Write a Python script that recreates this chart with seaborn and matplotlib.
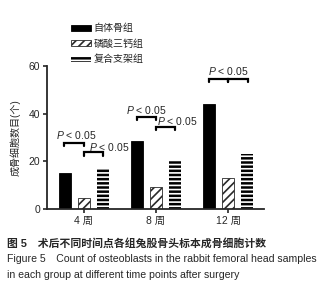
import numpy as np
import pandas as pd
import matplotlib
matplotlib.use("Agg")
import matplotlib.pyplot as plt
import seaborn as sns
from matplotlib.patches import Patch

sns.set_theme(style="ticks")
plt.rcParams["font.family"] = ["Liberation Sans", "Noto Sans CJK SC"]
plt.rcParams["mathtext.fontset"] = "custom"
plt.rcParams["mathtext.it"] = "Liberation Sans:italic"
plt.rcParams["mathtext.rm"] = "Liberation Sans"
plt.rcParams["hatch.linewidth"] = 1.2

# ---- data ----
weeks = ["4 周", "8 周", "12 周"]
groups = ["自体骨组", "磷酸三钙组", "复合支架组"]
autologous = [15, 28.5, 44]
tcp = [4.5, 9.2, 13]
composite = [17, 20.3, 23]

# significance brackets: (x1, x2, height)
brackets = [(-0.27, 0.0, 27.6), (0.0, 0.27, 23.8),
            (0.73, 1.0, 38.8), (1.0, 1.27, 34.6),
            (1.73, 2.0, 54.6), (2.0, 2.27, 54.6)]
# p labels: (x, y)
p_labels = [(-0.1, 31.0), (0.35, 26.2), (0.86, 41.8), (1.29, 36.9), (2.0, 58.2)]

df = pd.DataFrame({
    "week": weeks * 3,
    "group": [g for g in groups for _ in weeks],
    "count": autologous + tcp + composite,
})

fig = plt.figure(figsize=(3.34, 2.97), dpi=100)
ax = fig.add_axes([0.141, 0.296, 0.65, 0.481])

sns.barplot(data=df, x="week", y="count", hue="group", order=weeks,
            hue_order=groups, width=0.8, gap=0.38, ax=ax, legend=False,
            errorbar=None, saturation=1)

styles = [dict(fc="black", ec="black", hatch=None, lw=0.6),
          dict(fc="white", ec="#2a2a2a", hatch="////", lw=0.6),
          dict(fc="black", ec="white", hatch="----", lw=0)]
for cont, st in zip(ax.containers, styles):
    for bar in cont:
        bar.set_facecolor(st["fc"])
        bar.set_edgecolor(st["ec"])
        bar.set_linewidth(st["lw"])
        if st["hatch"]:
            bar.set_hatch(st["hatch"])

tick = 1.3
for x1, x2, h in brackets:
    ax.plot([x1, x1, x2, x2], [h - tick, h, h, h - tick], color="black",
            lw=1.6, clip_on=False, solid_joinstyle="miter")
for x, y in p_labels:
    ax.text(x, y, r"$\it{P}$ < 0.05", ha="center", va="center",
            fontsize=7.5, clip_on=False)

ax.set_xlim(-0.51, 2.5)
ax.set_ylim(0, 60)
ax.set_yticks([0, 20, 40, 60])
ax.set_xlabel("")
ax.set_ylabel("成骨细胞数目(个)", fontsize=7.2, labelpad=6)
ax.tick_params(axis="both", labelsize=7.5, width=1.2, length=3, pad=2)
sns.despine(ax=ax)
for s in ["left", "bottom"]:
    ax.spines[s].set_linewidth(1.3)

handles = [Patch(fc=st["fc"], ec=st["ec"], hatch=st["hatch"], lw=st["lw"]) for st in styles]
fig.legend(handles, groups, loc="upper left", bbox_to_anchor=(0.2, 0.935),
           frameon=False, fontsize=7.2, handlelength=2.0, handleheight=0.6,
           handletextpad=0.3, labelspacing=0.55, borderaxespad=0)

fig.text(0.021, 0.182, "图 5　术后不同时间点各组兔股骨头标本成骨细胞计数",
         fontsize=7.8, fontweight="bold", va="center")
fig.text(0.021, 0.128, "Figure 5　Count of osteoblasts in the rabbit femoral head samples",
         fontsize=7.6, va="center")
fig.text(0.021, 0.075, "in each group at different time points after surgery",
         fontsize=7.6, va="center")

fig.savefig("out.png", dpi=100)
